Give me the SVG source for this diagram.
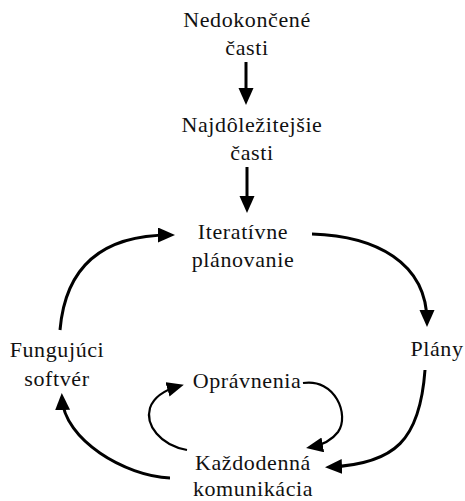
<svg xmlns="http://www.w3.org/2000/svg" width="465" height="501" viewBox="0 0 465 501">
<style>
text{font-family:"Liberation Serif","Times New Roman",serif;font-size:22px;letter-spacing:0.6px;fill:#111;text-anchor:middle}
.c{fill:none;stroke:#000;stroke-width:3}
.t{fill:none;stroke:#000;stroke-width:2.2}
</style>
<defs>
<marker id="ah" markerUnits="userSpaceOnUse" markerWidth="18" markerHeight="16" refX="12" refY="7.5" orient="auto" viewBox="0 0 18 16">
<path d="M0,0 L17,7.5 L0,15 z" fill="#000"/>
</marker>
</defs>
<rect width="465" height="501" fill="#fff"/>
<g id="connectors">
<path class="c" d="M246,62 V100" marker-end="url(#ah)"/>
<path class="c" d="M247,167 V208" marker-end="url(#ah)"/>
<path class="c" d="M60,330 C66,260 110,235 170,235" marker-end="url(#ah)"/>
<path class="c" d="M312,234 C375,236 427,262 427,322" marker-end="url(#ah)"/>
<path class="c" d="M425,370 C420,440 395,464 330,467" marker-end="url(#ah)"/>
<path class="t" d="M303,383 C335,378 350,415 338,432 C332,440 322,445 311,447" marker-end="url(#ah)"/>
<path class="t" d="M187,450 C160,445 145,425 150,408 C154,396 165,390 179,386" marker-end="url(#ah)"/>
<path class="c" d="M170,478 C125,476 64,440 62,398" marker-end="url(#ah)"/>
</g>
<g id="nedokoncene"><text x="247" y="27">Nedokončené</text><text x="247" y="55">časti</text></g>
<g id="najdolezitejsie"><text x="252" y="132">Najdôležitejšie</text><text x="252" y="160">časti</text></g>
<g id="iterativne"><text x="243" y="239">Iteratívne</text><text x="243" y="267">plánovanie</text></g>
<g id="fungujuci"><text x="57" y="357">Fungujúci</text><text x="57" y="386">softvér</text></g>
<g id="plany"><text x="437" y="356">Plány</text></g>
<g id="opravnenia"><text x="247" y="388">Oprávnenia</text></g>
<g id="kazdodenna"><text x="253" y="470">Každodenná</text><text x="253" y="496">komunikácia</text></g>
</svg>
